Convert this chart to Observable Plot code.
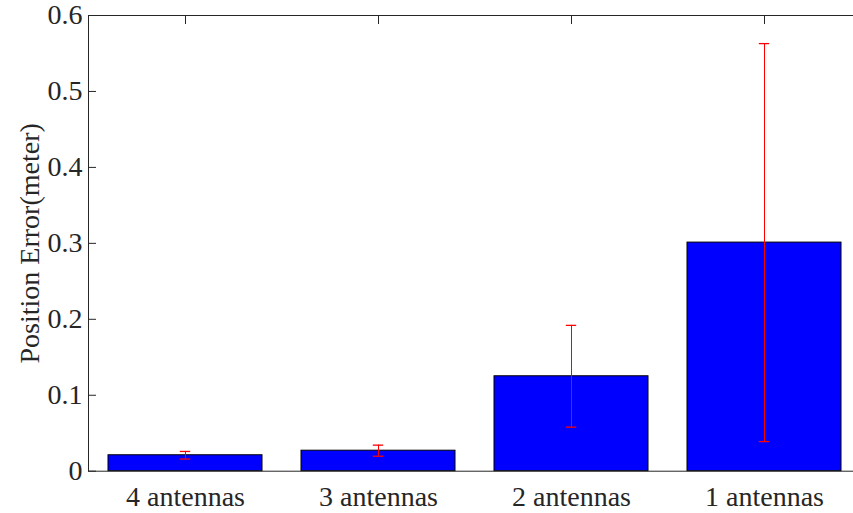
<!DOCTYPE html>
<html>
<head>
<meta charset="utf-8">
<script src="https://cdn.jsdelivr.net/npm/d3@7"></script>
<script src="https://cdn.jsdelivr.net/npm/@observablehq/plot@0.6"></script>
<style>
  html, body { margin: 0; padding: 0; background: #fff; overflow: hidden; }
  #chart { width: 853px; height: 513px; overflow: hidden; }
  #chart svg { max-width: none !important; }
  #chart svg text { font-family: "Liberation Serif", "Times New Roman", serif !important; font-size: 28px !important; }
</style>
</head>
<body>
<div id="chart"></div>
<script>
const categories = ["4 antennas", "3 antennas", "2 antennas", "1 antennas"];
const means = [0.021, 0.027, 0.125, 0.301];
const errors = [0.005, 0.0073, 0.067, 0.262];
const yTicks = [0, 0.1, 0.2, 0.3, 0.4, 0.5, 0.6];
const yLabel = "Position Error(meter)";

const data = categories.map((c, i) => ({cat: c, mean: means[i], lo: means[i] - errors[i], hi: means[i] + errors[i]}));

const font = "Liberation Serif";
const txt = "#262626";

const chart = Plot.plot({
  width: 861,
  height: 513,
  marginLeft: 88,
  marginRight: 0,
  marginTop: 15,
  marginBottom: 42.3,
  style: {background: "white", color: txt},
  x: {domain: categories, paddingInner: 0.2, paddingOuter: 0.1, label: null},
  y: {domain: [0, 0.6], label: null},
  marks: [
    Plot.barY(data, {x: "cat", y: "mean", fill: "#0000ff", stroke: "#000", strokeWidth: 1}),
    Plot.ruleX(data, {x: "cat", y1: "lo", y2: "hi", stroke: "#ff0000", strokeWidth: 1}),
    Plot.tickY(data, {x: "cat", y: "lo", stroke: "#ff0000", strokeWidth: 1.3, insetLeft: 71.8, insetRight: 71.8}),
    Plot.tickY(data, {x: "cat", y: "hi", stroke: "#ff0000", strokeWidth: 1.3, insetLeft: 71.8, insetRight: 71.8}),
    Plot.frame({stroke: txt, strokeWidth: 1}),
    Plot.axisY({ticks: yTicks, tickSize: 8, dx: 8, text: null, stroke: txt, label: null}),
    Plot.axisX({anchor: "top", tickSize: 8, dy: 8, text: null, stroke: txt, label: null}),
    Plot.axisY({ticks: yTicks, tickSize: 0, tickPadding: 6, fontSize: 28, fontFamily: font, fill: txt, label: null,
      tickFormat: d => d === 0 ? "0" : d.toFixed(1)}),
    Plot.axisX({anchor: "bottom", tickSize: 0, tickPadding: 15, fontSize: 28, fontFamily: font, fill: txt, label: null}),
    Plot.text([yLabel], {frameAnchor: "left", rotate: -90, dx: -58, textAnchor: "middle", fontSize: 28, fontFamily: font, fill: txt, text: d => d})
  ]
});
document.getElementById("chart").appendChild(chart);
</script>
</body>
</html>
